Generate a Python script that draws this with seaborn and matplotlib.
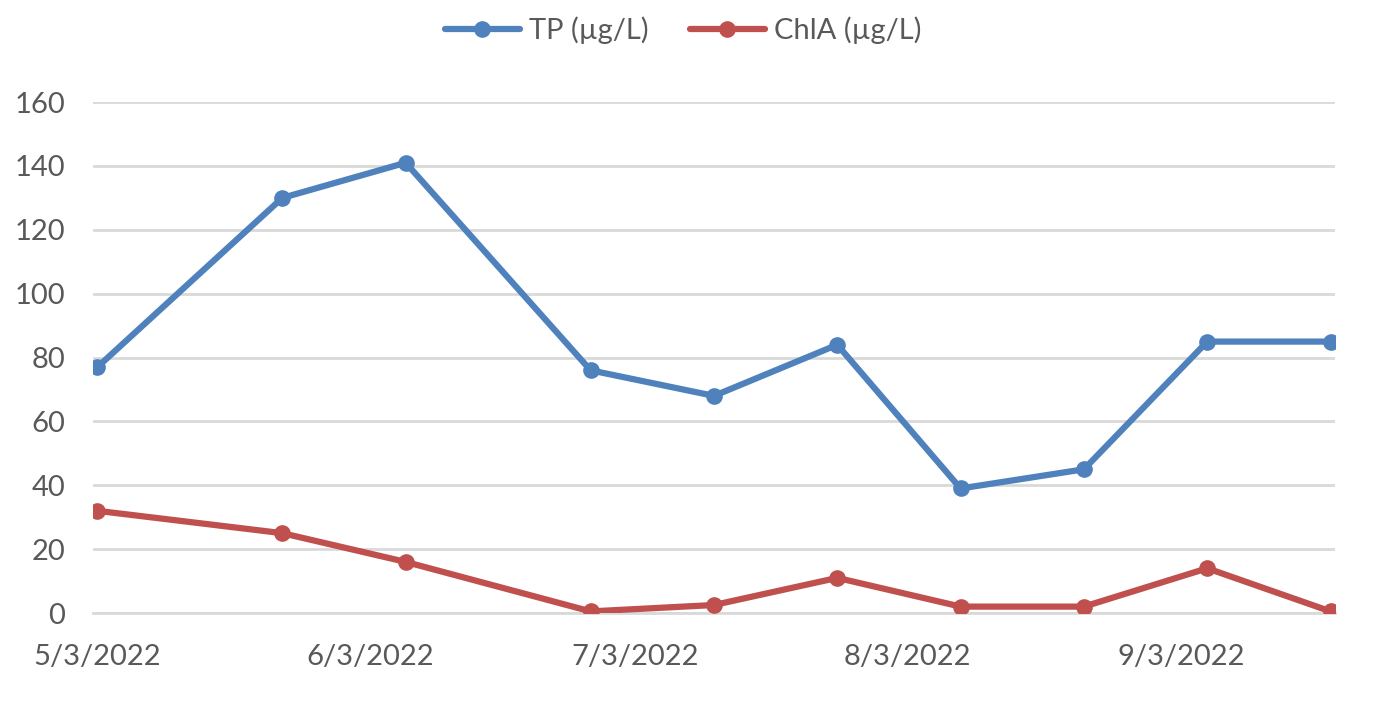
import pandas as pd
import matplotlib.pyplot as plt
import matplotlib.dates as mdates
import seaborn as sns

# Sampling dates and measured values
dates = ['2022-05-03', '2022-05-24', '2022-06-07', '2022-06-28', '2022-07-12',
         '2022-07-26', '2022-08-09', '2022-08-23', '2022-09-06', '2022-09-20']
tp = [77, 130, 141, 76, 68, 84, 39, 45, 85, 85]
chla = [32, 25, 16, 0.5, 2.5, 11, 2, 2, 14, 0.5]
series_names = ['TP (µg/L)', 'ChlA (µg/L)']
series_colors = ['#4F81BD', '#C0504D']
tick_dates = ['2022-05-03', '2022-06-03', '2022-07-03', '2022-08-03', '2022-09-03']
y_ticks = [0, 20, 40, 60, 80, 100, 120, 140, 160]

df = pd.DataFrame({'date': pd.to_datetime(dates), series_names[0]: tp, series_names[1]: chla})
long_df = df.melt(id_vars='date', var_name='series', value_name='value')

sns.set_style('white')
plt.rcParams['font.family'] = ['Lato', 'DejaVu Sans']

fig = plt.figure(figsize=(13.73, 7.09), dpi=100)
ax = fig.add_axes([0.0677, 0.1354, 0.9046, 0.7206])

sns.lineplot(data=long_df, x='date', y='value', hue='series', hue_order=series_names,
             palette=series_colors, marker='o', markersize=12, markeredgewidth=0,
             linewidth=4.5, ax=ax, legend=False, zorder=3)

ax.set_ylim(0, 160)
ax.set_yticks(y_ticks)
ax.set_xlim(pd.Timestamp('2022-05-02 12:00'), pd.Timestamp('2022-09-20 12:00'))
ticks = pd.to_datetime(tick_dates)
ax.set_xticks(ticks)
ax.xaxis.set_major_formatter(mdates.DateFormatter('%-m/%-d/%Y'))
ax.set_xlabel('')
ax.set_ylabel('')

ax.grid(axis='y', color='#D9D9D9', linewidth=2)
ax.grid(axis='x', visible=False)
for s in ['top', 'right', 'left']:
    ax.spines[s].set_visible(False)
ax.spines['bottom'].set_color('#D9D9D9')
ax.spines['bottom'].set_linewidth(2)

ax.tick_params(axis='y', length=0, pad=20, labelsize=21, labelcolor='#595959')
ax.tick_params(axis='x', direction='out', length=9, width=1.5, color='#D9D9D9',
               pad=13, labelsize=21, labelcolor='#595959')

handles = [plt.Line2D([], [], color=c, linewidth=4.5, marker='o', markersize=12,
                      markeredgewidth=0) for c in series_colors]
ax.legend(handles, series_names, loc='center', bbox_to_anchor=(0.4975, 1 - 30 / 709),
          bbox_transform=fig.transFigure, ncol=2, frameon=False, fontsize=21,
          labelcolor='#595959', handlelength=2.6, columnspacing=1.4, handletextpad=0.3)

fig.savefig('out.png', dpi=100, facecolor='white')
